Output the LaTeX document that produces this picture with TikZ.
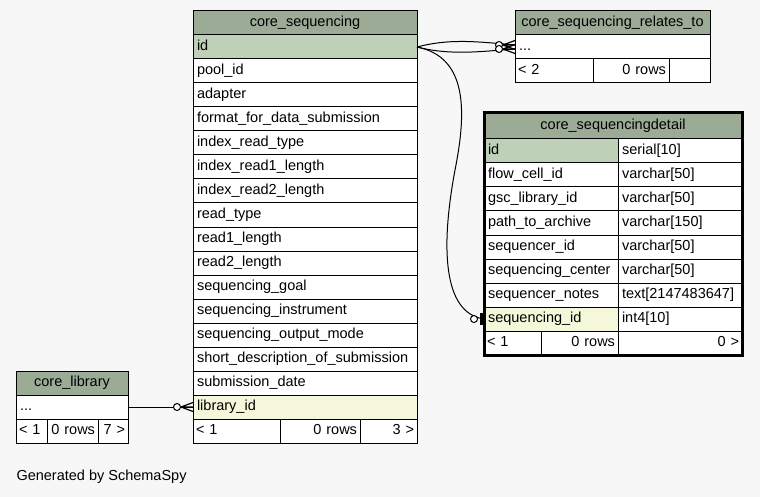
\documentclass[tikz,border=0pt]{standalone}
\usepackage{fontspec}
\setmainfont{Liberation Sans}
\usepackage{xcolor}
\usepackage{tikz}
\usetikzlibrary{positioning}
\definecolor{pagebg}{HTML}{F7F7F7}
\definecolor{headgreen}{HTML}{9BAB96}
\definecolor{keygreen}{HTML}{BED1B8}
\definecolor{fkyellow}{HTML}{F4F7DA}

\tikzset{
  cell/.style={draw, fill=white, outer sep=0pt, inner xsep=4pt, inner ysep=0pt,
    minimum height=24pt, text height=10.5pt, text depth=3pt, align=left,
    font=\fontsize{14.5}{17}\selectfont},
  head/.style={cell, fill=headgreen, align=center},
  pkey/.style={cell, fill=keygreen},
  fkey/.style={cell, fill=fkyellow},
  foot/.style={cell, inner xsep=3pt},
  crowzero/.pic={
    \draw[line width=1.2pt] (-12pt,0) -- (0,4.5pt) (-12pt,0) -- (0,-4.5pt) (-12pt,0) -- (0,0);
    \draw[fill=white] (-16pt,0) circle (3.5pt);
  },
  zeroone/.pic={
    \draw[fill=white] (-10pt,0) circle (3.5pt);
    \fill (-4pt,-6pt) rectangle (0,6pt);
  }
}

\begin{document}
\begin{tikzpicture}[x=1pt, y=-1pt, line width=1pt]
  \fill[pagebg] (0,0) rectangle (760,497);
  \useasboundingbox (0,0) rectangle (760,497);

  % core_sequencing
  \begin{scope}[every node/.append style={text width=216pt}]
    \node[head, anchor=north west] (seq) at (193,11) {core\_sequencing};
    \node[pkey, below=0pt of seq] (seqid) {id};
    \node[cell, below=0pt of seqid] (seqpool) {pool\_id};
    \node[cell, below=0pt of seqpool] (seqadapt) {adapter};
    \node[cell, below=0pt of seqadapt] (seqformat) {format\_for\_data\_submission};
    \node[cell, below=0pt of seqformat] (seqirt) {index\_read\_type};
    \node[cell, below=0pt of seqirt] (seqir1) {index\_read1\_length};
    \node[cell, below=0pt of seqir1] (seqir2) {index\_read2\_length};
    \node[cell, below=0pt of seqir2] (seqrt) {read\_type};
    \node[cell, below=0pt of seqrt] (seqr1) {read1\_length};
    \node[cell, below=0pt of seqr1] (seqr2) {read2\_length};
    \node[cell, below=0pt of seqr2] (seqgoal) {sequencing\_goal};
    \node[cell, below=0pt of seqgoal] (seqinst) {sequencing\_instrument};
    \node[cell, below=0pt of seqinst] (seqmode) {sequencing\_output\_mode};
    \node[cell, below=0pt of seqmode] (seqdesc) {short\_description\_of\_submission};
    \node[cell, below=0pt of seqdesc] (seqdate) {submission\_date};
    \node[fkey, below=0pt of seqdate] (seqlib) {library\_id};
  \end{scope}
  \node[foot, text width=81pt, anchor=north west] (seqf1) at (seqlib.south west) {< 1};
  \node[foot, text width=74pt, align=right, right=0pt of seqf1] (seqf2) {0 rows};
  \node[foot, text width=51pt, align=right, right=0pt of seqf2] (seqf3) {3 >};

  % core_sequencing_relates_to
  \node[head, text width=187pt, anchor=north west] (rel) at (515,11) {core\_sequencing\_relates\_to};
  \node[cell, text width=187pt, below=0pt of rel] (reldots) {...};
  \node[foot, text width=72pt, anchor=north west] (relf1) at (reldots.south west) {< 2};
  \node[foot, text width=70pt, align=right, right=0pt of relf1] (relf2) {0 rows};
  \node[foot, text width=35pt, align=right, right=0pt of relf2] (relf3) {};

  % core_sequencingdetail
  \node[head, text width=250pt, minimum height=26pt, anchor=north west] (dhead) at (484,113) {core\_sequencingdetail};
  \begin{scope}[every node/.append style={text width=126pt}]
    \node[pkey, anchor=north west] (did) at (dhead.south west) {id};
    \node[cell, below=0pt of did] (dflow) {flow\_cell\_id};
    \node[cell, below=0pt of dflow] (dgsc) {gsc\_library\_id};
    \node[cell, below=0pt of dgsc] (dpath) {path\_to\_archive};
    \node[cell, below=0pt of dpath] (dseqr) {sequencer\_id};
    \node[cell, below=0pt of dseqr] (dcenter) {sequencing\_center};
    \node[cell, below=0pt of dcenter] (dnotes) {sequencer\_notes};
    \node[fkey, below=0pt of dnotes] (dseq) {sequencing\_id};
  \end{scope}
  \begin{scope}[every node/.append style={text width=116pt}]
    \node[cell, right=0pt of did] (didt) {serial[10]};
    \node[cell, right=0pt of dflow] (dflowt) {varchar[50]};
    \node[cell, right=0pt of dgsc] (dgsct) {varchar[50]};
    \node[cell, right=0pt of dpath] (dpatht) {varchar[150]};
    \node[cell, right=0pt of dseqr] (dseqrt) {varchar[50]};
    \node[cell, right=0pt of dcenter] (dcentert) {varchar[50]};
    \node[cell, right=0pt of dnotes] (dnotest) {text[2147483647]};
    \node[cell, right=0pt of dseq] (dseqt) {int4[10]};
  \end{scope}
  \node[foot, text width=51pt, anchor=north west] (dfoot1) at (dseq.south west) {< 1};
  \node[foot, text width=71pt, align=right, right=0pt of dfoot1] (dfoot2) {0 rows};
  \node[foot, text width=118pt, align=right, right=0pt of dfoot2] (dfoot3) {0 >};
  \draw[line width=3pt] (dhead.north west) rectangle (dfoot3.south east);

  % core_library
  \node[head, text width=104pt, anchor=north west] (lib) at (16,371) {core\_library};
  \node[cell, text width=104pt, below=0pt of lib] (libdots) {...};
  \node[foot, text width=25pt, anchor=north west] (libf1) at (libdots.south west) {< 1};
  \node[foot, text width=45pt, align=right, right=0pt of libf1] (libf2) {0 rows};
  \node[foot, text width=24pt, align=right, right=0pt of libf2] (libf3) {7 >};

  % relations
  \coordinate (bend) at (455,170);
  \draw (seqid.east) .. controls +(34,-9) and +(-35,-3) .. ([yshift=2pt]reldots.west);
  \draw (seqid.east) .. controls +(34,9) and +(-30,2) .. ([yshift=-2pt]reldots.west);
  \draw (seqid.east) .. controls +(50,10) and +(12,-60) .. (bend)
    .. controls +(-14,75) and +(-42,-6) .. (dseq.west);
  \draw (libdots.east) -- (seqlib.west);
  \pic at ([yshift=2pt]reldots.west) {crowzero};
  \pic at ([yshift=-2pt]reldots.west) {crowzero};
  \pic at (dseq.west) {zeroone};
  \pic at (seqlib.west) {crowzero};

  \node[anchor=west, inner sep=0pt, font=\fontsize{14.5}{17}\selectfont] (gen) at (16,477) {Generated by SchemaSpy};
\end{tikzpicture}
\end{document}
